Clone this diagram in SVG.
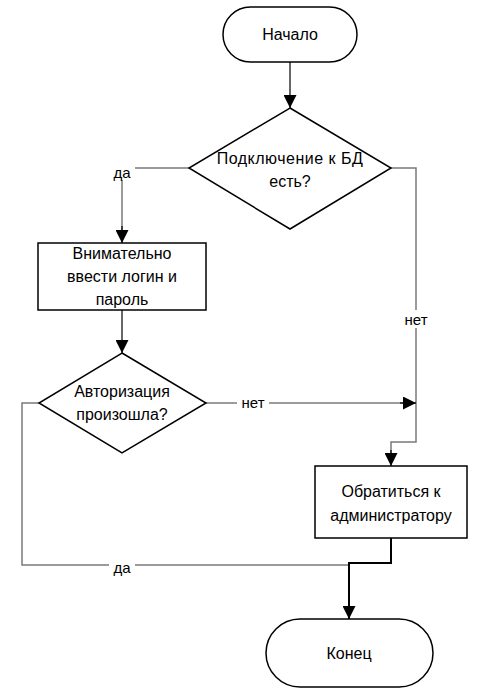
<svg xmlns="http://www.w3.org/2000/svg" width="489" height="694" viewBox="0 0 489 694">
  <defs>
    <marker id="arrow" viewBox="0 0 10 10" refX="10" refY="5" markerWidth="13" markerHeight="13" markerUnits="userSpaceOnUse" orient="auto">
      <path d="M0,0 L10,5 L0,10 Z" fill="#000"/>
    </marker>
    <style>
      .shape { fill: #fff; stroke: #000; stroke-width: 1.5; }
      .txt { font-family: "Liberation Sans", Arial, sans-serif; font-size: 16px; fill: #000; text-anchor: middle; }
      .lbl { font-family: "Liberation Sans", Arial, sans-serif; font-size: 15px; fill: #000; text-anchor: middle; }
      .line { fill: none; stroke: #000; stroke-width: 1.2; }
      .grey { fill: none; stroke: #7a7a7a; stroke-width: 1.5; }
      .lblbg { fill: #fff; }
    </style>
  </defs>
  <rect width="489" height="694" fill="#fff"/>

  <g id="connectors">
    <!-- start -> decision 1 -->
    <path class="line" d="M290,62 V108" marker-end="url(#arrow)"/>
    <!-- decision 1 yes -> input -->
    <path class="grey" d="M189,168 H122 V230"/>
    <path class="line" d="M122,226 V243" marker-end="url(#arrow)"/>
    <!-- decision 1 no -> admin -->
    <path class="grey" d="M391,168 H416 V442 H391 V455"/>
    <path class="line" d="M391,450 V466" marker-end="url(#arrow)"/>
    <!-- input -> decision 2 -->
    <path class="line" d="M122,310 V353" marker-end="url(#arrow)"/>
    <!-- decision 2 no -> joins right branch -->
    <path class="grey" d="M206,403 H404"/>
    <path class="line" d="M400,403 H416" marker-end="url(#arrow)"/>
    <!-- decision 2 yes -> end -->
    <path class="grey" d="M39,403 H22 V565 H349"/>
    <!-- admin -> end -->
    <path class="line" style="stroke-width:2" d="M391,538 V563 H349 V619" marker-end="url(#arrow)"/>

    <!-- branch labels -->
    <rect class="lblbg" x="109" y="163" width="26" height="17"/>
    <text class="lbl" x="122" y="178">да</text>
    <rect class="lblbg" x="401" y="310" width="30" height="18"/>
    <text class="lbl" x="416" y="325">нет</text>
    <rect class="lblbg" x="237" y="394" width="32" height="18"/>
    <text class="lbl" x="253" y="408">нет</text>
    <rect class="lblbg" x="109" y="558" width="26" height="16"/>
    <text class="lbl" x="122" y="573">да</text>
  </g>

  <g id="start">
    <rect class="shape" x="223" y="7" width="134" height="55" rx="27.5" ry="27.5"/>
    <text class="txt" x="290" y="40">Начало</text>
  </g>

  <g id="check-db">
    <polygon class="shape" points="290,108 391,168 290,229 189,168"/>
    <text class="txt" x="290" y="164" letter-spacing="0.5">Подключение к БД</text>
    <text class="txt" x="290" y="187">есть?</text>
  </g>

  <g id="enter-login">
    <rect class="shape" x="38" y="243" width="168" height="67"/>
    <text class="txt" x="122" y="259">Внимательно</text>
    <text class="txt" x="122" y="282">ввести логин и</text>
    <text class="txt" x="122" y="305">пароль</text>
  </g>

  <g id="check-auth">
    <polygon class="shape" points="122,353 206,403 122,453 39,403"/>
    <text class="txt" x="122" y="397">Авторизация</text>
    <text class="txt" x="122" y="420">произошла?</text>
  </g>

  <g id="contact-admin">
    <rect class="shape" x="315" y="466" width="152" height="72"/>
    <text class="txt" x="391" y="497">Обратиться к</text>
    <text class="txt" x="391" y="521">администратору</text>
  </g>

  <g id="end">
    <rect class="shape" x="266" y="619" width="167" height="68" rx="34" ry="34"/>
    <text class="txt" x="349" y="659">Конец</text>
  </g>
</svg>
